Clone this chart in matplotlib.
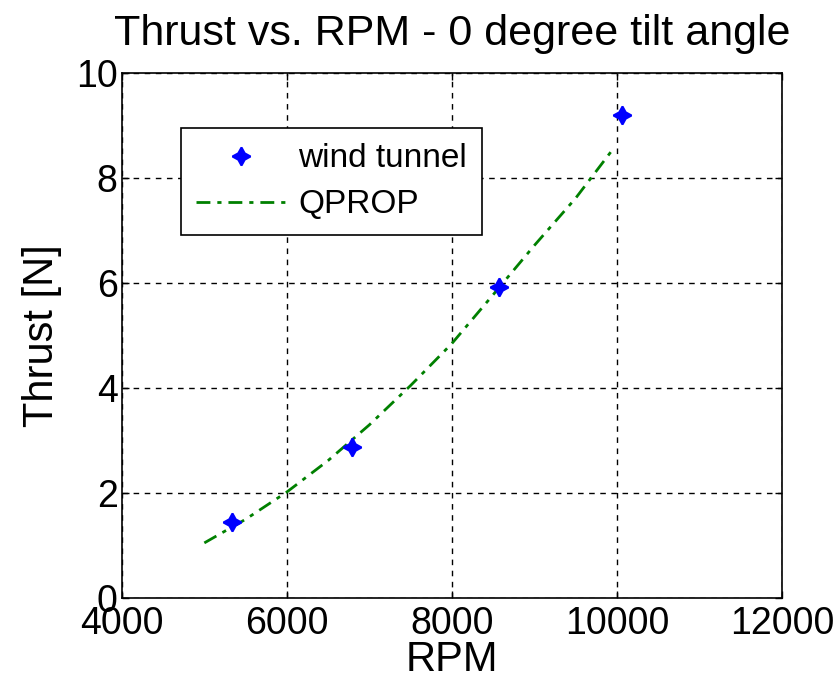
import matplotlib
matplotlib.use("Agg")
import matplotlib.pyplot as plt

plt.rcParams['font.family'] = ['Liberation Sans', 'DejaVu Sans']

# Wind tunnel measurements
wt_rpm = [5330, 6790, 8570, 10060]
wt_thrust = [1.45, 2.87, 5.93, 9.2]

# QPROP prediction
qp_rpm = [5000, 5500, 6000, 6500, 7000, 7500, 8000, 8500, 9000, 9500, 9950]
qp_thrust = [1.05, 1.5, 2.02, 2.62, 3.3, 4.05, 4.85, 5.78, 6.72, 7.62, 8.55]

xticks = [4000, 6000, 8000, 10000, 12000]
yticks = [0, 2, 4, 6, 8, 10]

fig = plt.figure(figsize=(8.4, 6.97), dpi=100)
ax = fig.add_axes([0.145, 0.142, 0.786, 0.753])

ax.plot(wt_rpm, wt_thrust, linestyle='none', marker=(4, 1, 0), markersize=13,
        color='blue', markeredgecolor='blue', markeredgewidth=1.5, label='wind tunnel', zorder=3)
ax.plot(qp_rpm, qp_thrust, color=(0, 0.5, 0), linewidth=2.0,
        dashes=(5, 2.5, 1.5, 2.5), label='QPROP', zorder=2)

ax.set_xlim(4000, 12000)
ax.set_ylim(0, 10)
ax.set_xticks(xticks)
ax.set_yticks(yticks)
ax.grid(True, color='black', linestyle=(0, (4, 4)), linewidth=1.0)
ax.tick_params(direction='in', length=5, width=1, labelsize=27, top=True, right=True, pad=3)
ax.tick_params(axis='x', pad=6)
for s in ax.spines.values():
    s.set_linewidth(1.2)

ax.set_xlabel('RPM', fontsize=30, labelpad=-2)
ax.set_ylabel('Thrust [N]', fontsize=30, labelpad=10)
ax.set_title('Thrust vs. RPM - 0 degree tilt angle', fontsize=31, pad=20)

leg = ax.legend(loc='upper left', bbox_to_anchor=(0.09, 0.895), fontsize=24,
                frameon=True, fancybox=False, edgecolor='black', framealpha=1,
                handlelength=2.7, borderpad=0.45, labelspacing=0.45, handletextpad=0.35,
                borderaxespad=0)
leg.get_frame().set_linewidth(1.2)

fig.savefig('out.png', dpi=100, facecolor='white')
